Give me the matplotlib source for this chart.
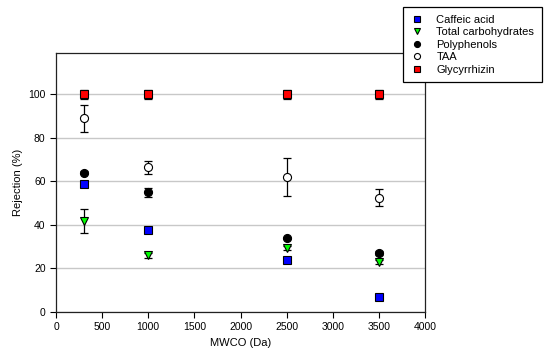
import matplotlib.pyplot as plt

plt.rcParams["font.family"] = ["Liberation Sans", "DejaVu Sans"]

mwco = [300, 1000, 2500, 3500]

caffeic = [58.8, 37.6, 24.0, 7.0]
caffeic_err = [1.2, 1.0, 1.0, 0.8]
carbs = [41.7, 26.0, 29.5, 23.0]
carbs_err = [5.5, 1.0, 0.8, 0.8]
polyphenols = [64.0, 55.0, 34.0, 27.0]
polyphenols_err = [0.8, 2.0, 0.6, 0.8]
taa = [89.0, 66.6, 62.0, 52.5]
taa_err = [6.3, 3.0, 8.6, 4.0]
glycyrrhizin = [100.0, 100.0, 100.0, 100.0]
glycyrrhizin_err = [2.0, 2.0, 2.0, 2.0]

fig = plt.figure(figsize=(5.5, 3.63), dpi=100)
ax = fig.add_axes([56 / 550, 1 - 312 / 363, 369 / 550, 259 / 363])

series = [
    ("Caffeic acid", caffeic, caffeic_err, "s", "#0000ff", 5.2),
    ("Total carbohydrates", carbs, carbs_err, "v", "#00ff00", 5.8),
    ("Polyphenols", polyphenols, polyphenols_err, "o", "black", 5.8),
    ("TAA", taa, taa_err, "o", "white", 5.8),
    ("Glycyrrhizin", glycyrrhizin, glycyrrhizin_err, "s", "#ff0000", 5.2),
]

for label, vals, err, marker, color, ms in series:
    ax.errorbar(mwco, vals, yerr=err, fmt="none", ecolor="black",
                elinewidth=0.9, capsize=3.2, capthick=0.9, zorder=3)
    ax.plot(mwco, vals, linestyle="none", marker=marker, markersize=ms,
            markerfacecolor=color, markeredgecolor="black",
            markeredgewidth=0.8, label=label, zorder=4)

ax.set_xlim(0, 4000)
ax.set_ylim(0, 119)
ax.set_xticks(range(0, 4001, 500))
ax.set_yticks(range(0, 101, 20))
ax.yaxis.grid(True, color="#c8c8c8", linewidth=1.0)
ax.set_axisbelow(True)
ax.tick_params(direction="out", length=4, width=0.8, labelsize=7.5,
               colors="black")
for s in ax.spines.values():
    s.set_linewidth(0.9)
    s.set_color("#222222")

ax.set_xlabel("MWCO (Da)", fontsize=8)
ax.set_ylabel("Rejection (%)", fontsize=8)

handles, labels = ax.get_legend_handles_labels()
leg = fig.legend(handles, labels, loc="upper left",
                 bbox_to_anchor=(403 / 550, 1 - 7 / 363),
                 borderaxespad=0, fontsize=8, frameon=True, fancybox=False,
                 edgecolor="black", framealpha=1, handlelength=1.2,
                 handletextpad=1.1, labelspacing=0.22, borderpad=0.7,
                 markerscale=0.75)
leg.get_frame().set_linewidth(0.9)

fig.savefig("out.png", dpi=100)
